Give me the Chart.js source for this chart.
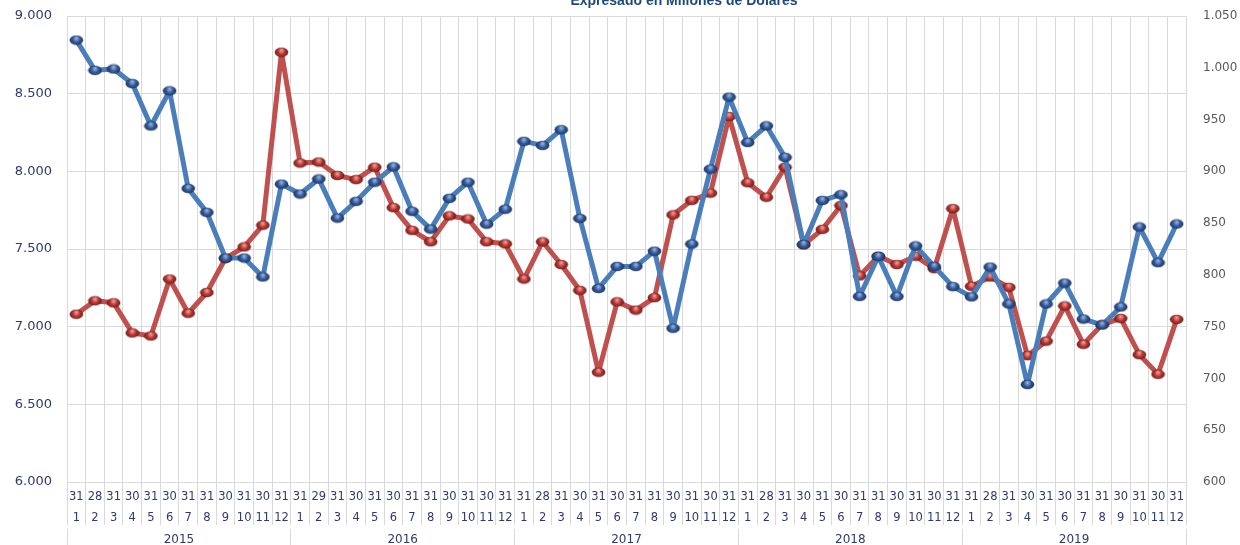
<!DOCTYPE html>
<html>
<head>
  <title>Expresado en Millones de Dólares</title>
  <script src="https://cdn.jsdelivr.net/npm/chart.js"></script>
  <style>
    body { margin: 0; background: #fff; }
  </style>
</head>
<body>
  <canvas id="chart" width="1240" height="545"></canvas>

  <script>
    // categories: last day of each month, month number, year
    var years = ['2015', '2016', '2017', '2018', '2019'];
    var months = ['1', '2', '3', '4', '5', '6', '7', '8', '9', '10', '11', '12'];
    var lastDays = [
      '31','28','31','30','31','30','31','31','30','31','30','31',
      '31','29','31','30','31','30','31','31','30','31','30','31',
      '31','28','31','30','31','30','31','31','30','31','30','31',
      '31','28','31','30','31','30','31','31','30','31','30','31',
      '31','28','31','30','31','30','31','31','30','31','30','31'
    ];

    // left axis series (blue)
    var leftValues = [
      8845, 8650, 8659, 8565, 8292, 8518, 7890, 7736, 7442, 7442, 7320, 7918,
      7854, 7951, 7699, 7807, 7930, 8029, 7743, 7628, 7826, 7930, 7660, 7756,
      8193, 8167, 8268, 7697, 7246, 7388, 7388, 7486, 6990, 7532, 8014, 8478,
      8186, 8293, 8090, 7529, 7813, 7850, 7195, 7452, 7195, 7520, 7388, 7258,
      7192, 7384, 7146, 6628, 7146, 7281, 7049, 7011, 7127, 7642, 7412, 7661
    ];

    // right axis series (red)
    var rightValues = [
      762, 775, 773, 744, 741, 796, 763, 783, 816, 827, 848, 1015,
      908, 909, 896, 892, 904, 865, 843, 832, 857, 854, 832, 830,
      796, 832, 810, 785, 706, 774, 766, 778, 858, 872, 879, 953,
      889, 875, 904, 829, 844, 867, 799, 818, 810, 818, 806, 864,
      789, 798, 788, 722, 736, 770, 733, 752, 758, 723, 704, 757
    ];

    var labels = lastDays.map(function (d, i) {
      return [d, months[i % 12]];
    });

    // thousands with a dot, like 9.000
    function fmt(v) {
      return String(v).replace(/\B(?=(\d{3})+(?!\d))/g, '.');
    }

    // small shaded oval used as the point marker
    function marker(light, base, dark) {
      var c = document.createElement('canvas');
      c.width = 15;
      c.height = 11;
      var g = c.getContext('2d');
      var grd = g.createRadialGradient(7.5, 3.5, 0.5, 7.5, 5.5, 7.5);
      grd.addColorStop(0, light);
      grd.addColorStop(0.45, base);
      grd.addColorStop(1, dark);
      g.fillStyle = grd;
      g.beginPath();
      g.ellipse(7.5, 5.5, 6.6, 4.6, 0, 0, Math.PI * 2);
      g.fill();
      g.strokeStyle = 'rgba(0,0,0,0.35)';
      g.lineWidth = 0.8;
      g.stroke();
      return c;
    }

    var blueDot = marker('#8fb0e0', '#2f5597', '#17305c');
    var redDot = marker('#f09a96', '#b3302c', '#6b1715');

    // title sits mostly above the canvas edge, as in the original
    var clippedTitle = {
      id: 'clippedTitle',
      afterDraw: function (chart) {
        var c = chart.ctx;
        c.save();
        c.font = 'bold 14px "Liberation Sans"';
        c.fillStyle = '#1F497D';
        c.textAlign = 'center';
        c.textBaseline = 'alphabetic';
        c.fillText('Expresado en Millones de Dólares', 684, 5);
        c.restore();
      }
    };

    var navy = '#2E3A6B';
    var gridColor = '#d9d9d9';

    var ctx = document.getElementById('chart').getContext('2d');
    var chart = new Chart(ctx, {
      type: 'line',
      data: {
        labels: labels,
        datasets: [
          {
            label: 'Millones de Dólares',
            data: leftValues,
            yAxisID: 'y',
            xAxisID: 'x',
            borderColor: '#4A7EBB',
            borderWidth: 5,
            borderJoinStyle: 'round',
            tension: 0,
            pointStyle: blueDot,
            pointRadius: 6
          },
          {
            label: 'Eje secundario',
            data: rightValues,
            yAxisID: 'y1',
            xAxisID: 'x',
            borderColor: '#C0504D',
            borderWidth: 5,
            borderJoinStyle: 'round',
            tension: 0,
            pointStyle: redDot,
            pointRadius: 6
          }
        ]
      },
      options: {
        responsive: false,
        animation: false,
        layout: { autoPadding: false, padding: { top: 16, left: 0, right: 0, bottom: 0 } },
        plugins: {
          legend: { display: false },
          tooltip: { enabled: false }
        },
        scales: {
          x: {
            type: 'category',
            position: 'bottom',
            weight: 0,
            offset: true,
            grid: { offset: true, color: gridColor, tickLength: 43 },
            border: { color: gridColor },
            ticks: {
              autoSkip: false,
              maxRotation: 0,
              padding: -38.5,
              color: navy,
              font: { family: 'DejaVu Sans', size: 11.5, lineHeight: '21px' }
            },
            afterFit: function (s) { s.height = 46.5; }
          },
          year: {
            type: 'category',
            labels: years,
            position: 'bottom',
            weight: 1,
            offset: true,
            grid: { offset: true, drawOnChartArea: false, color: gridColor, tickLength: 17 },
            border: { display: false },
            ticks: {
              maxRotation: 0,
              padding: -12.7,
              color: navy,
              font: { family: 'DejaVu Sans', size: 12, lineHeight: '14px' }
            },
            afterFit: function (s) { s.height = 16.5; }
          },
          y: {
            position: 'left',
            min: 6000,
            max: 9000,
            // invisible tick marks give the gap between labels and plot
            grid: { color: gridColor, tickLength: 15, tickColor: 'rgba(0,0,0,0)' },
            border: { display: false },
            ticks: {
              stepSize: 500,
              padding: 0,
              color: navy,
              font: { family: 'DejaVu Sans', size: 13 },
              callback: function (v) { return fmt(v); }
            },
            afterFit: function (s) { s.width = 67; }
          },
          y1: {
            position: 'right',
            min: 600,
            max: 1050,
            grid: { drawOnChartArea: false, tickLength: 17, tickColor: 'rgba(0,0,0,0)' },
            border: { display: false },
            ticks: {
              stepSize: 50,
              padding: 0,
              color: '#595959',
              font: { family: 'DejaVu Sans', size: 12 },
              callback: function (v) { return fmt(v); }
            },
            afterFit: function (s) { s.width = 54; }
          }
        }
      },
      plugins: [clippedTitle]
    });
  </script>
</body>
</html>
